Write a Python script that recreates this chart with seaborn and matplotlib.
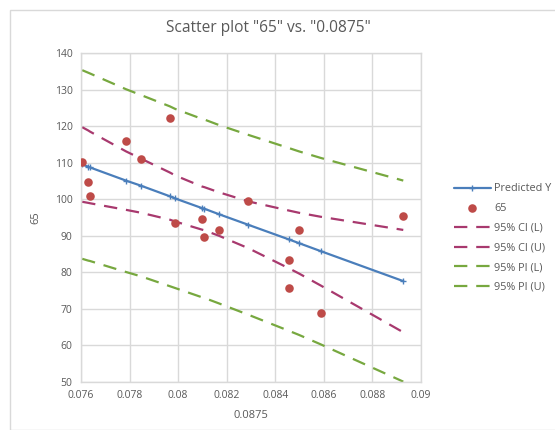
import numpy as np
import pandas as pd
import seaborn as sns
import matplotlib.pyplot as plt
from matplotlib.patches import Rectangle

# Observed points
obs_x = [0.07605, 0.0763, 0.07637, 0.07785, 0.07847, 0.07966, 0.07988, 0.08097,
         0.08108, 0.08168, 0.08289, 0.08456, 0.08456, 0.08497, 0.08587, 0.08927]
obs_y = [110.1, 104.7, 100.8, 116.0, 111.1, 122.1, 93.4, 94.5,
         89.7, 91.6, 99.5, 83.3, 75.7, 91.7, 68.8, 95.3]

# Fitted line and bands (at unique x)
fit_x = [0.07605, 0.0763, 0.07637, 0.07785, 0.07847, 0.07966, 0.07988, 0.08097,
         0.08108, 0.08168, 0.08289, 0.08456, 0.08497, 0.08587, 0.08927]
pred_y = [109.5, 108.9, 108.7, 105.1, 103.7, 100.8, 100.2, 97.6,
          97.4, 95.9, 93.0, 89.0, 88.0, 85.8, 77.6]
ci_low = [99.3, 99.0, 98.9, 97.1, 96.3, 94.4, 93.9, 91.7,
          91.5, 90.0, 86.6, 81.1, 79.7, 76.4, 63.6]
ci_up = [119.7, 118.8, 118.5, 113.1, 111.1, 107.3, 106.5, 103.5,
         103.3, 101.9, 99.4, 96.9, 96.3, 95.2, 91.6]
pi_low = [83.7, 83.2, 83.1, 80.1, 78.9, 76.2, 75.7, 73.2,
          73.0, 71.5, 68.4, 64.0, 62.9, 60.3, 50.1]
pi_up = [135.3, 134.6, 134.4, 130.1, 128.5, 125.4, 124.7, 122.0,
         121.8, 120.3, 117.6, 114.0, 113.1, 111.3, 105.1]

x_ticks = [0.076, 0.078, 0.08, 0.082, 0.084, 0.086, 0.088, 0.09]
x_labels = ['0.076', '0.078', '0.08', '0.082', '0.084', '0.086', '0.088', '0.09']
y_ticks = [50, 60, 70, 80, 90, 100, 110, 120, 130, 140]

fit = pd.DataFrame({'x': fit_x, 'pred': pred_y, 'cil': ci_low, 'ciu': ci_up,
                    'pil': pi_low, 'piu': pi_up})
obs = pd.DataFrame({'x': obs_x, 'y': obs_y})

sns.set_style('white')
plt.rcParams['font.family'] = ['Open Sans', 'DejaVu Sans']

blue = '#4a7ebb'
red = '#be4b48'
purple = '#a8396e'
green = '#77a83f'
txt = '#595959'

fig = plt.figure(figsize=(5.55, 4.30), dpi=100)
ax = fig.add_axes([81 / 555, 1 - 382 / 430, 340 / 555, 329 / 430])

# chart border
fig.patches.append(Rectangle((10 / 555, 0), 1, 1 - 10 / 430, transform=fig.transFigure,
                             fill=False, edgecolor='#d9d9d9', linewidth=1))

dash = (6, 4)
sns.lineplot(data=fit, x='x', y='pred', ax=ax, color=blue, linewidth=1.6,
             marker='+', markersize=5, markeredgewidth=1.0, markeredgecolor=blue,
             label='Predicted Y')
sns.scatterplot(data=obs, x='x', y='y', ax=ax, color=red, s=38, edgecolor=red,
                linewidth=0, label='65', zorder=3)
for col, colour, lab in [('cil', purple, '95% CI (L)'), ('ciu', purple, '95% CI (U)'),
                         ('pil', green, '95% PI (L)'), ('piu', green, '95% PI (U)')]:
    sns.lineplot(data=fit, x='x', y=col, ax=ax, color=colour, linewidth=1.6, label=lab)
    ax.lines[-1].set_dashes(dash)

ax.set_xlim(0.076, 0.09)
ax.set_ylim(50, 140)
ax.set_xticks(x_ticks)
ax.set_xticklabels(x_labels)
ax.set_yticks(y_ticks)
ax.grid(True, color='#d9d9d9', linewidth=1)
ax.set_axisbelow(True)
for s in ax.spines.values():
    s.set_color('#d9d9d9')
    s.set_linewidth(1)
ax.tick_params(axis='both', length=0, colors=txt, labelsize=7.5, pad=6)

ax.set_xlabel('0.0875', color=txt, fontsize=8, labelpad=6)
ax.set_ylabel('65', color=txt, fontsize=8, labelpad=10)
fig.suptitle('Scatter plot "65" vs. "0.0875"', x=268 / 555, y=1 - 20 / 430,
             color=txt, fontsize=11.2)

handles, labels = ax.get_legend_handles_labels()
leg = ax.legend(handles, labels, loc='center left',
                bbox_to_anchor=((454 - 81) / 340, (382 - 238) / 329),
                frameon=False, fontsize=7.8, handlelength=3.4, handletextpad=0.3,
                labelspacing=0.8, borderaxespad=0, borderpad=0)
for t in leg.get_texts():
    t.set_color(txt)

fig.savefig('out.png', dpi=100)
